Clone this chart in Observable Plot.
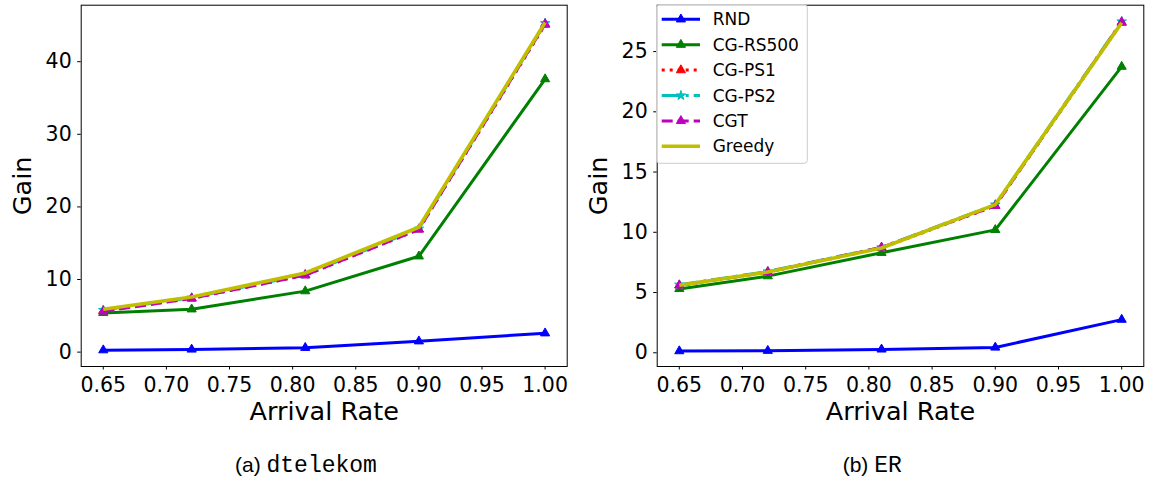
<!DOCTYPE html>
<html><head><meta charset="utf-8">
<script src="https://cdn.jsdelivr.net/npm/d3@7"></script>
<script src="https://cdn.jsdelivr.net/npm/@observablehq/plot@0.6"></script>
<style>
body{margin:0;background:#fff;}
#wrap{position:relative;width:1157px;height:482px;overflow:hidden;background:#fff;}
.panel{position:absolute;top:0;}
#overlay{position:absolute;left:0;top:0;}
</style></head><body><div id="wrap"></div>
<script>
// ---- data ----
const arrivalRates = [0.65, 0.72, 0.81, 0.90, 1.00];
const xTickValues = [0.65, 0.70, 0.75, 0.80, 0.85, 0.90, 0.95, 1.00];
const seriesNames = ["RND", "CG-RS500", "CG-PS1", "CG-PS2", "CGT", "Greedy"];

// (a) dtelekom
const dtelekomRND     = [0.27, 0.37, 0.60, 1.50, 2.60];
const dtelekomCGRS500 = [5.40, 5.90, 8.40, 13.20, 37.60];
const dtelekomCGPS1   = [5.70, 7.40, 10.60, 16.90, 45.10];
const dtelekomCGPS2   = [5.80, 7.50, 10.70, 17.00, 45.30];
const dtelekomCGT     = [5.60, 7.40, 10.60, 16.90, 45.20];
const dtelekomGreedy  = [5.90, 7.60, 10.90, 17.20, 45.40];
const dtelekomYTicks  = [0, 10, 20, 30, 40];

// (b) ER
const erRND     = [0.14, 0.17, 0.28, 0.44, 2.75];
const erCGRS500 = [5.30, 6.36, 8.30, 10.20, 23.75];
const erCGPS1   = [5.60, 6.70, 8.70, 12.20, 27.40];
const erCGPS2   = [5.65, 6.75, 8.75, 12.30, 27.50];
const erCGT     = [5.60, 6.70, 8.75, 12.20, 27.45];
const erGreedy  = [5.60, 6.70, 8.70, 12.30, 27.40];
const erYTicks  = [0, 5, 10, 15, 20, 25];

const captionLetters = ["(a)", "(b)"];
const captionNames = ["dtelekom", "ER"];

// ---- styles ----
const styles = {
  "RND":      {color: "#0000ff", width: 3,   dash: null,            symbol: "triangle", r: 3.4},
  "CG-RS500": {color: "#008000", width: 3,   dash: null,            symbol: "triangle", r: 3.4},
  "CG-PS1":   {color: "#ff0000", width: 3,   dash: "3,5",           symbol: "triangle", r: 3.4},
  "CG-PS2":   {color: "#00bfbf", width: 3,   dash: "19,5,3,5",      symbol: "star",     r: 3.0},
  "CGT":      {color: "#bf00bf", width: 3,   dash: "11,5",          symbol: "triangle", r: 3.4},
  "Greedy":   {color: "#bfbf00", width: 3.6, dash: null,            symbol: null,       r: 0}
};

function rowsFor(seriesArrays) {
  const rows = [];
  seriesNames.forEach((name, k) => {
    seriesArrays[k].forEach((g, i) => rows.push({series: name, rate: arrivalRates[i], gain: g}));
  });
  return rows;
}

const panels = [
  {left: 0, width: 578, marginLeft: 80.7, marginRight: 11.3, yDomain: [-1.98, 47.78], yTicks: dtelekomYTicks,
   data: rowsFor([dtelekomRND, dtelekomCGRS500, dtelekomCGPS1, dtelekomCGPS2, dtelekomCGT, dtelekomGreedy])},
  {left: 578, width: 579, marginLeft: 78.7, marginRight: 13.7, yDomain: [-1.14, 28.85], yTicks: erYTicks,
   data: rowsFor([erRND, erCGRS500, erCGPS1, erCGPS2, erCGT, erGreedy])}
];

const wrap = document.getElementById("wrap");
const H = 430, marginTop = 4.7, marginBottom = 64;

panels.forEach(p => {
  const marks = [];
  seriesNames.forEach(name => {
    const s = styles[name];
    const d = p.data.filter(r => r.series === name);
    marks.push(Plot.line(d, {x: "rate", y: "gain", stroke: s.color, strokeWidth: s.width,
      strokeDasharray: s.dash || undefined, strokeLinejoin: "round", strokeLinecap: "butt"}));
    if (s.symbol) marks.push(Plot.dot(d, {x: "rate", y: "gain", symbol: s.symbol, fill: s.color, stroke: s.color, strokeWidth: 1, r: s.r}));
  });
  marks.push(Plot.frame({stroke: "black", strokeWidth: 1}));
  marks.push(Plot.axisX({ticks: xTickValues, tickFormat: d => d.toFixed(2), tickSize: 3.5, tickPadding: 7.2,
    fontSize: 20.5, label: null, stroke: "black", fill: "black"}));
  marks.push(Plot.axisY({ticks: p.yTicks, tickFormat: d => String(d), tickSize: 3.5, tickPadding: 6,
    fontSize: 20.5, label: null, stroke: "black", fill: "black"}));
  marks.push(Plot.text(["Arrival Rate"], {frameAnchor: "bottom", text: d => d, dy: 53, lineAnchor: "bottom",
    fontSize: 25.5, fill: "black"}));
  marks.push(Plot.text(["Gain"], {frameAnchor: "left", text: d => d, rotate: -90, dx: -50, lineAnchor: "bottom",
    textAnchor: "middle", fontSize: 25.5, fill: "black"}));

  const svg = Plot.plot({
    width: p.width, height: H,
    marginLeft: p.marginLeft, marginRight: p.marginRight, marginTop, marginBottom,
    style: {fontFamily: "DejaVu Sans", color: "black", background: "white", overflow: "visible"},
    x: {domain: [0.6325, 1.0175]},
    y: {domain: p.yDomain},
    marks
  });
  const div = document.createElement("div");
  div.className = "panel";
  div.style.left = p.left + "px";
  div.appendChild(svg);
  wrap.appendChild(div);
});

// ---- overlay: legend + captions ----
const ov = d3.select(wrap).append("svg").attr("id", "overlay").attr("width", 1157).attr("height", 482)
  .style("font-family", "DejaVu Sans");

const lg = ov.append("g").attr("transform", "translate(656.7,4.7)");
lg.append("rect").attr("width", 150.6).attr("height", 158.6).attr("rx", 3)
  .attr("fill", "white").attr("fill-opacity", 0.8).attr("stroke", "#cccccc").attr("stroke-width", 1);
seriesNames.forEach((name, i) => {
  const s = styles[name];
  const y = 14.6 + i * 25.4;
  const row = lg.append("g").attr("transform", `translate(0,${y})`);
  const ln = row.append("line").attr("x1", 5).attr("x2", 43.3).attr("y1", 0).attr("y2", 0)
    .attr("stroke", s.color).attr("stroke-width", s.width);
  if (s.dash) ln.attr("stroke-dasharray", s.dash);
  if (s.symbol) {
    const sym = s.symbol === "star" ? d3.symbolStar : d3.symbolTriangle;
    row.append("path").attr("d", d3.symbol(sym, Math.PI * s.r * s.r)()).attr("transform", "translate(24.2,0)")
      .attr("fill", s.color).attr("stroke", s.color).attr("stroke-width", 1);
  }
  row.append("text").attr("x", 56).attr("y", 0).attr("dy", "0.36em").attr("font-size", 17).attr("fill", "black").text(name);
});

const capX = [235, 842.7];
captionLetters.forEach((letter, i) => {
  const t = ov.append("text").attr("x", capX[i]).attr("y", 471.7).attr("fill", "black");
  t.append("tspan").attr("font-family", "Liberation Sans").attr("font-size", 21).text(letter + " ");
  t.append("tspan").attr("font-family", "Liberation Mono").attr("font-size", 23).text(captionNames[i]);
});
</script>
</body></html>
